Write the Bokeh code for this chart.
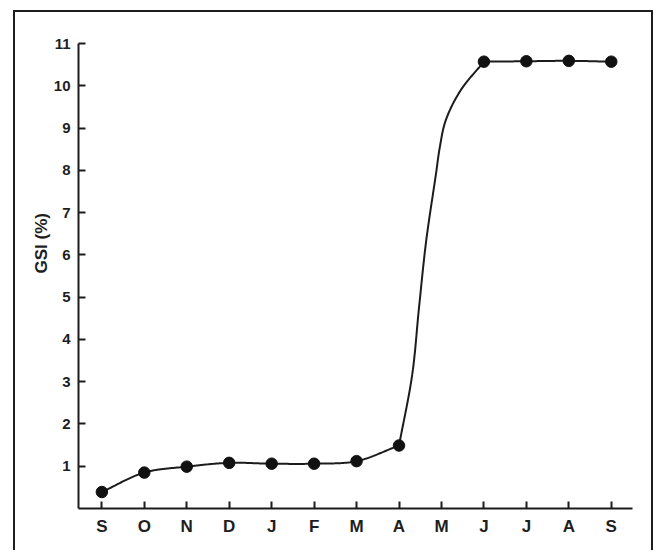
import numpy as np
from bokeh.plotting import figure
from bokeh.models import FixedTicker, Title
from bokeh.embed import file_html
from bokeh.resources import INLINE

# ---- data ----
months = ["S", "O", "N", "D", "J", "F", "M", "A", "M", "J", "J", "A", "S"]
gsi = [0.39, 0.85, 0.99, 1.08, 1.06, 1.06, 1.12, 1.49, None, 10.57, 10.58, 10.59, 10.57]
# where the drawn curve passes during the April-June rise
rise_x = [7.31, 7.47, 7.64, 7.87, 7.96, 8.10, 8.45]
rise_gsi = [3.16, 4.74, 6.33, 7.91, 8.54, 9.18, 9.89]
y_ticks = [1, 2, 3, 4, 5, 6, 7, 8, 9, 10, 11]

# ---- points ----
px = [i for i, v in enumerate(gsi) if v is not None]
py = [v for v in gsi if v is not None]


def catmull_rom(xs, ys, n=40, alpha=0.5):
    pts = np.column_stack([np.asarray(xs, float), np.asarray(ys, float)])
    P = np.vstack([2 * pts[0] - pts[1], pts, 2 * pts[-1] - pts[-2]])
    out = []
    for i in range(1, len(P) - 2):
        p0, p1, p2, p3 = P[i - 1], P[i], P[i + 1], P[i + 2]
        t0 = 0.0
        t1 = t0 + np.linalg.norm(p1 - p0) ** alpha
        t2 = t1 + np.linalg.norm(p2 - p1) ** alpha
        t3 = t2 + np.linalg.norm(p3 - p2) ** alpha
        t = np.linspace(t1, t2, n)[:, None]
        A1 = (t1 - t) / (t1 - t0) * p0 + (t - t0) / (t1 - t0) * p1
        A2 = (t2 - t) / (t2 - t1) * p1 + (t - t1) / (t2 - t1) * p2
        A3 = (t3 - t) / (t3 - t2) * p2 + (t - t2) / (t3 - t2) * p3
        B1 = (t2 - t) / (t2 - t0) * A1 + (t - t0) / (t2 - t0) * A2
        B2 = (t3 - t) / (t3 - t1) * A2 + (t - t1) / (t3 - t1) * A3
        C = (t2 - t) / (t2 - t1) * B1 + (t - t1) / (t2 - t1) * B2
        out.append(C if i == 1 else C[1:])
    C = np.vstack(out)
    return list(C[:, 0]), list(C[:, 1])


# three smooth pieces: Sep..Apr, the Apr..Jun rise, Jun..Sep
ia = 7  # April
ij = 9  # June
seg1 = catmull_rom(px[: ia + 1], py[: ia + 1])
seg2 = catmull_rom([px[ia]] + rise_x + [ij], [py[ia]] + rise_gsi + [gsi[ij]])
seg3 = catmull_rom([x for x in px if x >= ij], [gsi[x] for x in px if x >= ij])

INK = "#1c1c1c"
FONT = "Liberation Sans"

p = figure(
    width=640, height=540,
    x_range=(-0.55, 12.5), y_range=(0, 11),
    output_backend="svg", toolbar_location=None,
    min_border_left=63, min_border_right=23, min_border_top=31, min_border_bottom=44,
    styles={
        "margin-left": "13px", "margin-top": "10px",
        "border-left": "2px solid #1e1e1e",
        "border-top": "2px solid #1e1e1e",
        "border-right": "2px solid #1e1e1e",
    },
)
p.outline_line_color = None
p.grid.visible = False
p.background_fill_color = "white"
p.border_fill_color = "white"

for sx, sy in (seg1, seg2, seg3):
    p.line(sx, sy, line_width=2, line_color=INK)
p.scatter(x=px, y=py, size=11.5, color="#111111")

for ax in (p.xaxis[0], p.yaxis[0]):
    ax.axis_line_width = 2
    ax.axis_line_color = INK
    ax.major_tick_line_width = 2
    ax.major_tick_line_color = INK
    ax.major_tick_in = 7
    ax.major_tick_out = 0
    ax.minor_tick_line_color = None
    ax.major_label_text_font = FONT
    ax.major_label_text_font_style = "bold"
    ax.major_label_text_color = "#1e1e1e"

p.xaxis.ticker = FixedTicker(ticks=list(range(len(months))))
p.xaxis.major_label_overrides = {i: m for i, m in enumerate(months)}
p.xaxis.major_label_text_font_size = "17px"
p.xaxis.major_label_standoff = 8

p.yaxis.ticker = FixedTicker(ticks=y_ticks)
p.yaxis.major_label_text_font_size = "15px"
p.yaxis.major_label_standoff = 8

p.add_layout(Title(
    text="GSI (%)", align="left", offset=235, standoff=0,
    text_font=FONT, text_font_style="bold", text_font_size="17px",
    text_color="#1e1e1e",
), "left")

open("out.html", "w").write(file_html(p, INLINE))
